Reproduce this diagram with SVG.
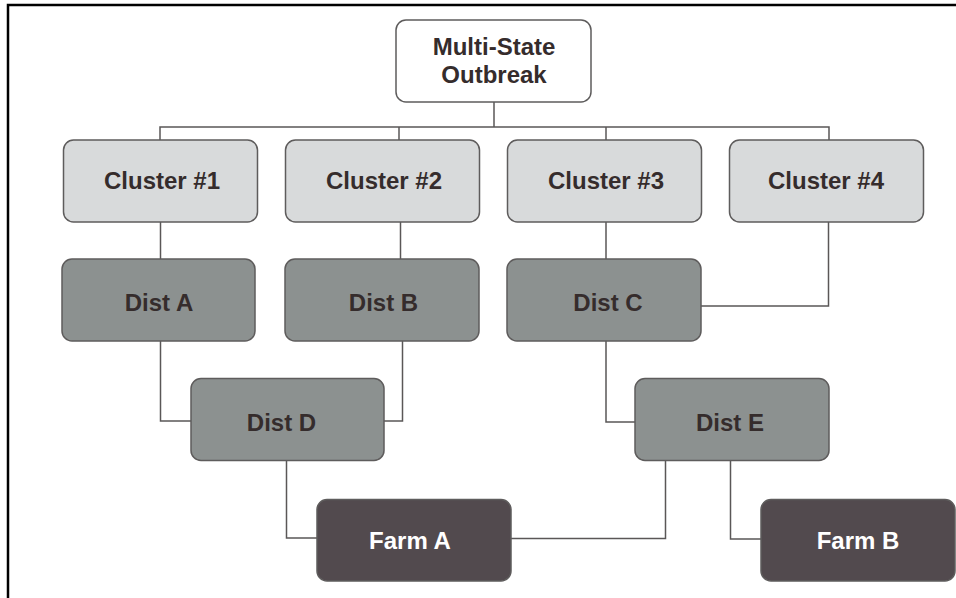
<svg xmlns="http://www.w3.org/2000/svg" width="956" height="598" viewBox="0 0 956 598">
<style>
.box{stroke:#5e5c5c;stroke-width:1.5}
.top{fill:#ffffff}
.cl{fill:#d8dadb}
.di{fill:#8c9190}
.fa{fill:#524a4e}
text{font-family:"Liberation Sans",Arial,sans-serif;font-weight:bold;font-size:24px;text-anchor:middle;fill:#352c2c}
.fa-t{fill:#ffffff}
.conn{fill:none;stroke:#5a5757;stroke-width:1.5}
</style>
<rect width="956" height="598" fill="#ffffff"/>
<path d="M8,598 V5 H956" fill="none" stroke="#000000" stroke-width="2.5"/>
<g id="connectors" class="conn">
<path d="M494,102 V127"/>
<path d="M160,140 V127 H829 V140"/>
<path d="M399,127 V140"/>
<path d="M606,127 V140"/>
<path d="M160.5,222 V259"/>
<path d="M400.5,222 V259"/>
<path d="M606,222 V259"/>
<path d="M828.5,222 V306 H701"/>
<path d="M160.5,341 V421 H191"/>
<path d="M402.5,341 V421 H384"/>
<path d="M606,341 V422 H635"/>
<path d="M286.5,460 V538 H317"/>
<path d="M511,538.5 H665.5 V460"/>
<path d="M730.5,460 V539 H761"/>
</g>
<g id="n-outbreak"><rect class="box top" x="396" y="20" width="195" height="82" rx="10"/><text x="494" y="55">Multi-State</text><text x="494" y="83">Outbreak</text></g>
<g id="n-cluster1"><rect class="box cl" x="63.5" y="140" width="194" height="82" rx="10"/><text x="162" y="189">Cluster #1</text></g>
<g id="n-cluster2"><rect class="box cl" x="285.5" y="140" width="194" height="82" rx="10"/><text x="384" y="189">Cluster #2</text></g>
<g id="n-cluster3"><rect class="box cl" x="507.5" y="140" width="194" height="82" rx="10"/><text x="606" y="189">Cluster #3</text></g>
<g id="n-cluster4"><rect class="box cl" x="729.5" y="140" width="194" height="82" rx="10"/><text x="826" y="189">Cluster #4</text></g>
<g id="n-distA"><rect class="box di" x="62" y="259" width="193" height="82" rx="10"/><text x="159" y="311">Dist A</text></g>
<g id="n-distB"><rect class="box di" x="285" y="259" width="194" height="82" rx="10"/><text x="383.5" y="311">Dist B</text></g>
<g id="n-distC"><rect class="box di" x="507" y="259" width="194" height="82" rx="10"/><text x="608" y="311">Dist C</text></g>
<g id="n-distD"><rect class="box di" x="191" y="378.5" width="193" height="82" rx="10"/><text x="281.5" y="431">Dist D</text></g>
<g id="n-distE"><rect class="box di" x="635" y="378.5" width="194" height="82" rx="10"/><text x="730" y="431">Dist E</text></g>
<g id="n-farmA"><rect class="box fa" x="317" y="499.5" width="194" height="81.5" rx="10"/><text class="fa-t" x="410" y="549">Farm A</text></g>
<g id="n-farmB"><rect class="box fa" x="761" y="499.5" width="194" height="81.5" rx="10"/><text class="fa-t" x="858" y="549">Farm B</text></g>
</svg>
